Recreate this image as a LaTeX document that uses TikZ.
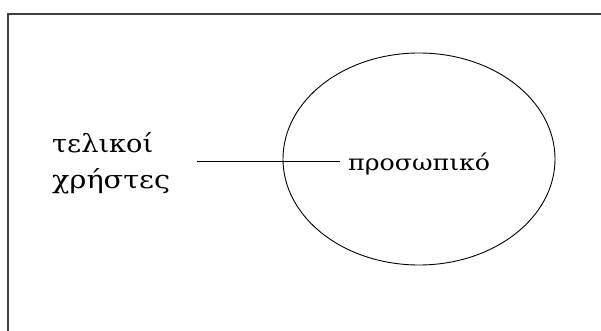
\documentclass[tikz,border=0pt]{standalone}
\usepackage{fontspec}
\setmainfont{DejaVu Serif}
\usepackage{graphicx}
\usetikzlibrary{shapes.geometric}
\newcommand{\fitw}[2]{\resizebox{#1}{\height}{#2}}
\begin{document}
\begin{tikzpicture}[x=1pt,y=-1pt,
  frame/.style={draw=black!75,line width=2pt},
  lbl/.style={inner sep=0pt,font=\fontsize{25}{36}\selectfont},
  oval/.style={draw,ellipse,line width=0.9pt,minimum width=272pt,minimum height=212pt,inner sep=0pt}]
\useasboundingbox (0,0) rectangle (601,331);
\draw[frame] (8,331) -- (8,14) -- (601,14);
\node[oval] (e) at (419,159) {};
\node[lbl,anchor=base west] (u1) at (52,152) {\fitw{101pt}{τελικοί}};
\node[lbl,anchor=base west] (u2) at (52,188) {\fitw{118pt}{χρήστες}};
\node[lbl,anchor=base west,font=\fontsize{22}{26}\selectfont] (p) at (348,170) {\fitw{142pt}{προσωπικό}};
\coordinate (a) at (197,161);
\draw[line width=0.9pt] (a) -- ([xshift=-8pt]a -| p.west);
\end{tikzpicture}
\end{document}
